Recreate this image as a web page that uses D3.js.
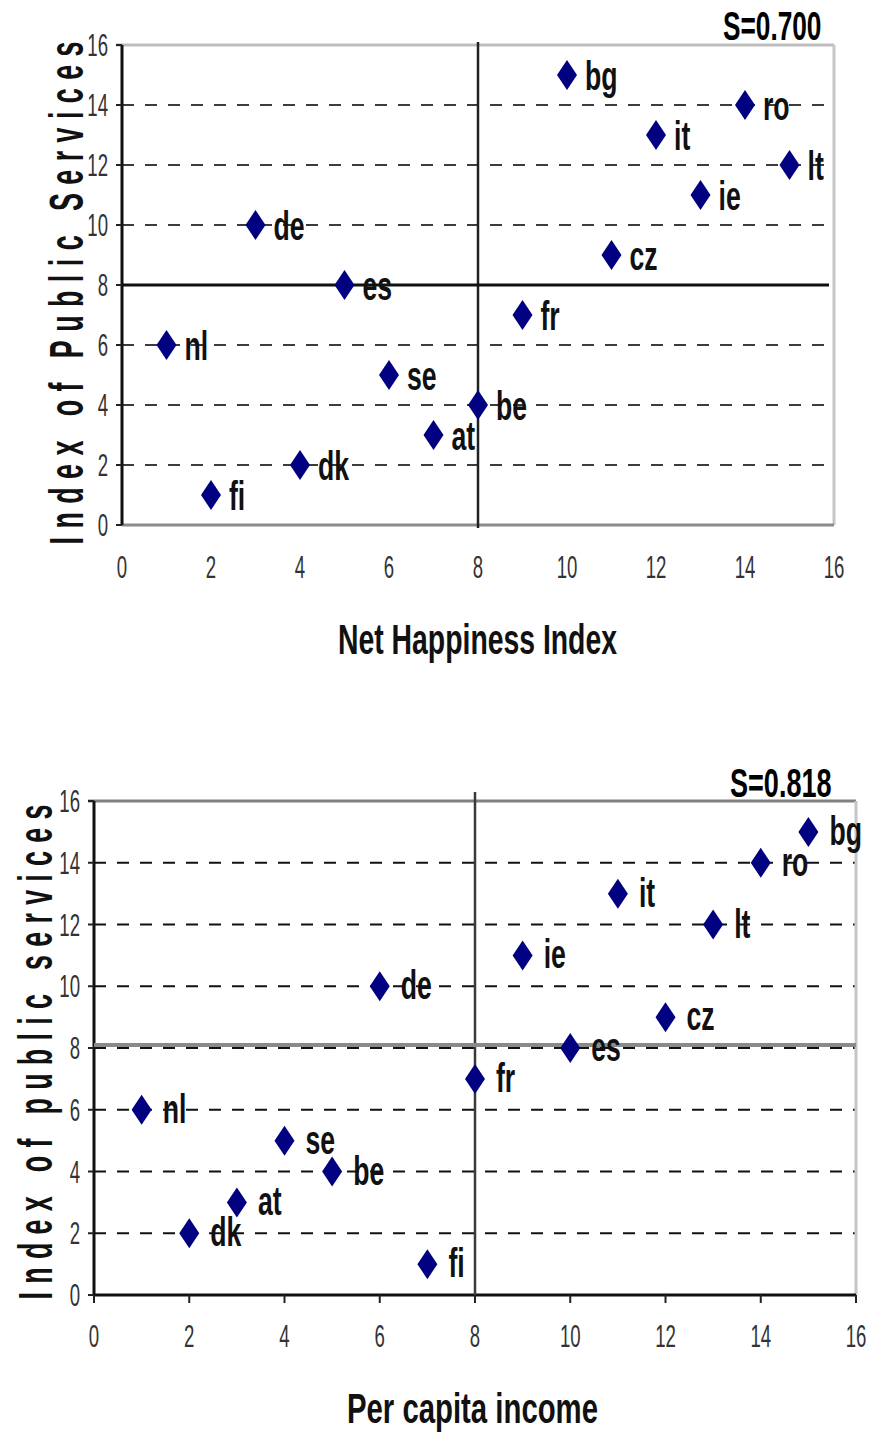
<!DOCTYPE html>
<html>
<head>
<meta charset="utf-8">
<script src="https://cdn.jsdelivr.net/npm/d3@7.9.0/dist/d3.min.js"></script>
<style>
  body { margin: 0; background: #fff; }
  svg { display: block; font-family: "Liberation Sans", Arial, sans-serif; }
</style>
</head>
<body>
<svg id="chart" width="870" height="1433"></svg>
<script>
// Data
const countries      = ['bg', 'ro', 'it', 'lt', 'ie', 'de', 'cz', 'es', 'fr', 'nl', 'se', 'be', 'at', 'dk', 'fi'];
const publicServices = [15, 14, 13, 12, 11, 10, 9, 8, 7, 6, 5, 4, 3, 2, 1];
const netHappiness   = [10, 14, 12, 15, 13, 3, 11, 5, 9, 1, 6, 8, 7, 4, 2];
const perCapitaIncome = [15, 14, 11, 13, 9, 6, 12, 10, 8, 1, 4, 5, 3, 2, 7];
const axisTicks = [0, 2, 4, 6, 8, 10, 12, 14, 16];
const medianValue = 8;

const svg = d3.select('#chart');

// text squeezed horizontally, like the stretched original
function squeezed(parent, x, y, str, o) {
  const g = parent.append('g').attr('transform', `translate(${x},${y})` + (o.rotate ? ` rotate(${o.rotate})` : ''));
  const t = g.append('text')
    .attr('transform', `scale(${o.sx},1)`)
    .attr('text-anchor', o.anchor || 'start')
    .attr('font-size', o.size)
    .attr('font-weight', o.weight || 'normal')
    .attr('fill', o.fill || '#000')
    .text(str);
  if (o.len) t.attr('textLength', o.len / o.sx).attr('lengthAdjust', o.adjust || 'spacingAndGlyphs');
  return t;
}

function drawChart(c) {
  const x = d3.scaleLinear().domain([0, 16]).range([c.left, c.right]);
  const y = d3.scaleLinear().domain([0, 16]).range([c.bottom, c.top]);
  const g = svg.append('g');

  // dashed gridlines
  g.append('g').selectAll('line')
    .data(axisTicks.filter(d => d > 0 && d < 16 && (c.gridAtMedian || d !== medianValue)))
    .join('line')
    .attr('x1', c.left).attr('x2', c.right)
    .attr('y1', d => y(d)).attr('y2', d => y(d))
    .attr('stroke', c.gridColor).attr('stroke-width', 2)
    .attr('stroke-dasharray', '12,11');

  // frame
  g.append('line').attr('x1', c.left - 6).attr('x2', c.right).attr('y1', c.top).attr('y2', c.top)
    .attr('stroke', c.topColor).attr('stroke-width', 3);
  g.append('line').attr('x1', c.right).attr('x2', c.right).attr('y1', c.top).attr('y2', c.bottom)
    .attr('stroke', '#c6c6c6').attr('stroke-width', 3);
  g.append('line').attr('x1', c.left).attr('x2', c.right).attr('y1', c.bottom).attr('y2', c.bottom)
    .attr('stroke', c.bottomColor).attr('stroke-width', 3);
  g.append('line').attr('x1', c.left).attr('x2', c.left).attr('y1', c.top).attr('y2', c.bottom)
    .attr('stroke', '#111').attr('stroke-width', 3);

  // y tick marks
  g.append('g').selectAll('line').data(axisTicks).join('line')
    .attr('x1', c.left - 6).attr('x2', c.left)
    .attr('y1', d => y(d)).attr('y2', d => y(d))
    .attr('stroke', '#222').attr('stroke-width', 2);
  if (c.xTickMarks) {
    g.append('g').selectAll('line').data(axisTicks).join('line')
      .attr('x1', d => x(d)).attr('x2', d => x(d))
      .attr('y1', c.bottom).attr('y2', c.bottom + 8)
      .attr('stroke', '#222').attr('stroke-width', 2);
  }

  // median cross lines
  g.append('line')
    .attr('x1', x(medianValue)).attr('x2', x(medianValue))
    .attr('y1', c.top - c.vOver).attr('y2', c.bottom + c.vUnder)
    .attr('stroke', c.vColor).attr('stroke-width', 2.5);
  g.append('line')
    .attr('x1', c.left).attr('x2', c.right - c.hShort)
    .attr('y1', y(c.hValue)).attr('y2', y(c.hValue))
    .attr('stroke', c.hColor).attr('stroke-width', c.hWidth);

  // tick labels
  axisTicks.forEach(d => {
    squeezed(g, c.yLabelX, y(d) + 11, d, { size: 31, sx: 0.6, anchor: 'end', fill: '#333' });
    squeezed(g, x(d), c.xLabelY, d, { size: 31, sx: 0.6, anchor: 'middle', fill: '#333' });
  });

  // points
  const pts = countries.map((name, i) => ({ name, xv: c.xValues[i], yv: c.yValues[i] }));
  g.append('g').selectAll('path').data(pts).join('path')
    .attr('d', 'M0,-15L10,0L0,15L-10,0Z')
    .attr('transform', d => `translate(${x(d.xv)},${y(d.yv)})`)
    .attr('fill', '#000080');
  pts.forEach(d => {
    squeezed(g, x(d.xv) + c.labelDx, y(d.yv) + c.labelDy, d.name, { size: 41, sx: 0.65, weight: 'bold', fill: '#111' });
  });

  // texts
  squeezed(g, c.sX, c.sY, c.sText, { size: 41, sx: c.sSx, weight: 'bold' });
  squeezed(g, c.xtX, c.xtY, c.xTitle, { size: 42, sx: 1, len: c.xtW, weight: 'bold', fill: '#111' });
  squeezed(g, c.ytX, c.ytY, c.yTitle, { size: 48, sx: 0.56, len: c.ytW, adjust: 'spacing', weight: 'bold', anchor: 'middle', rotate: -90, fill: '#111' });
}

drawChart({
  xValues: netHappiness, yValues: publicServices,
  left: 122, right: 834, top: 45, bottom: 525,
  gridColor: '#3c3c3c', gridAtMedian: false,
  topColor: '#bdbdbd', bottomColor: '#8c8c8c', xTickMarks: false,
  vOver: 3, vUnder: 3, vColor: '#222',
  hValue: 8, hColor: '#111', hWidth: 3, hShort: 5,
  yLabelX: 108, xLabelY: 578,
  labelDx: 18, labelDy: 15,
  sText: 'S=0.700', sX: 723, sY: 40, sSx: 0.64,
  xTitle: 'Net Happiness Index', xtX: 338, xtY: 654, xtW: 279,
  yTitle: 'Index of Public Services', ytX: 83, ytY: 293, ytW: 503
});

drawChart({
  xValues: perCapitaIncome, yValues: publicServices,
  left: 94, right: 856, top: 801, bottom: 1295,
  gridColor: '#111', gridAtMedian: true,
  topColor: '#808080', bottomColor: '#111', xTickMarks: true,
  vOver: 9, vUnder: 0, vColor: '#3a3a3a',
  hValue: 8.1, hColor: '#8a8a8a', hWidth: 4, hShort: 0,
  yLabelX: 80, xLabelY: 1347,
  labelDx: 21, labelDy: 13,
  sText: 'S=0.818', sX: 730, sY: 797, sSx: 0.66,
  xTitle: 'Per capita income', xtX: 347, xtY: 1423, xtW: 251,
  yTitle: 'Index of public services', ytX: 52, ytY: 1052, ytW: 495
});
</script>
</body>
</html>
